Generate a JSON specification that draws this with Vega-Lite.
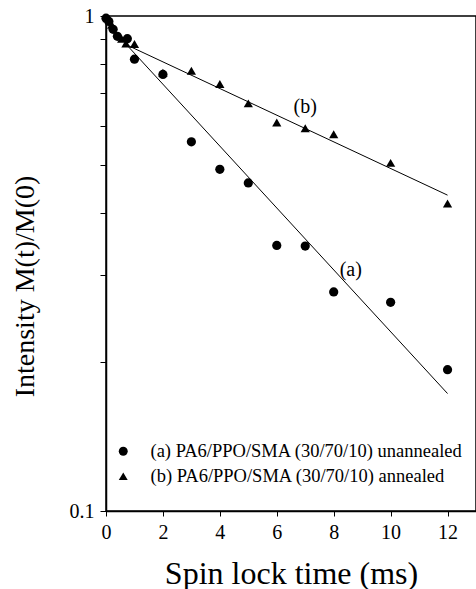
{
  "$schema": "https://vega.github.io/schema/vega-lite/v6.json",
  "width": 370,
  "height": 495,
  "autosize": {"type": "none"},
  "padding": {"left": 106, "top": 16, "right": 0, "bottom": 78},
  "background": "white",
  "config": {
    "font": "Liberation Serif",
    "view": {"stroke": "black", "strokeWidth": 1.5},
    "axis": {"domainColor": "black", "tickColor": "black", "labelColor": "black", "titleColor": "black", "grid": false, "labelFont": "Liberation Serif", "titleFont": "Liberation Serif", "titleFontWeight": "normal"}
  },
  "datasets": {
    "points": [
      {"t": 0.0, "m": 0.99, "series": "(a) PA6/PPO/SMA (30/70/10) unannealed"},
      {"t": 0.1, "m": 0.975, "series": "(a) PA6/PPO/SMA (30/70/10) unannealed"},
      {"t": 0.25, "m": 0.94, "series": "(a) PA6/PPO/SMA (30/70/10) unannealed"},
      {"t": 0.4, "m": 0.91, "series": "(a) PA6/PPO/SMA (30/70/10) unannealed"},
      {"t": 0.75, "m": 0.9, "series": "(a) PA6/PPO/SMA (30/70/10) unannealed"},
      {"t": 1, "m": 0.818, "series": "(a) PA6/PPO/SMA (30/70/10) unannealed"},
      {"t": 2, "m": 0.762, "series": "(a) PA6/PPO/SMA (30/70/10) unannealed"},
      {"t": 3, "m": 0.557, "series": "(a) PA6/PPO/SMA (30/70/10) unannealed"},
      {"t": 4, "m": 0.49, "series": "(a) PA6/PPO/SMA (30/70/10) unannealed"},
      {"t": 5, "m": 0.46, "series": "(a) PA6/PPO/SMA (30/70/10) unannealed"},
      {"t": 6, "m": 0.344, "series": "(a) PA6/PPO/SMA (30/70/10) unannealed"},
      {"t": 7, "m": 0.343, "series": "(a) PA6/PPO/SMA (30/70/10) unannealed"},
      {"t": 8, "m": 0.277, "series": "(a) PA6/PPO/SMA (30/70/10) unannealed"},
      {"t": 10, "m": 0.264, "series": "(a) PA6/PPO/SMA (30/70/10) unannealed"},
      {"t": 12, "m": 0.193, "series": "(a) PA6/PPO/SMA (30/70/10) unannealed"},
      {"t": 0.05, "m": 0.99, "series": "(b) PA6/PPO/SMA (30/70/10) annealed"},
      {"t": 0.2, "m": 0.96, "series": "(b) PA6/PPO/SMA (30/70/10) annealed"},
      {"t": 0.55, "m": 0.9, "series": "(b) PA6/PPO/SMA (30/70/10) annealed"},
      {"t": 0.7, "m": 0.88, "series": "(b) PA6/PPO/SMA (30/70/10) annealed"},
      {"t": 1, "m": 0.878, "series": "(b) PA6/PPO/SMA (30/70/10) annealed"},
      {"t": 2, "m": 0.768, "series": "(b) PA6/PPO/SMA (30/70/10) annealed"},
      {"t": 3, "m": 0.775, "series": "(b) PA6/PPO/SMA (30/70/10) annealed"},
      {"t": 4, "m": 0.729, "series": "(b) PA6/PPO/SMA (30/70/10) annealed"},
      {"t": 5, "m": 0.666, "series": "(b) PA6/PPO/SMA (30/70/10) annealed"},
      {"t": 6, "m": 0.609, "series": "(b) PA6/PPO/SMA (30/70/10) annealed"},
      {"t": 7, "m": 0.593, "series": "(b) PA6/PPO/SMA (30/70/10) annealed"},
      {"t": 8, "m": 0.577, "series": "(b) PA6/PPO/SMA (30/70/10) annealed"},
      {"t": 10, "m": 0.505, "series": "(b) PA6/PPO/SMA (30/70/10) annealed"},
      {"t": 12, "m": 0.418, "series": "(b) PA6/PPO/SMA (30/70/10) annealed"}
    ],
    "fits": [
      {"t": 0.73, "m": 0.874, "fit": "a"},
      {"t": 12, "m": 0.1727, "fit": "a"},
      {"t": 0.73, "m": 0.874, "fit": "b"},
      {"t": 12, "m": 0.4346, "fit": "b"}
    ],
    "notes": [
      {"t": 8.6, "m": 0.307, "label": "(a)"},
      {"t": 7.0, "m": 0.654, "label": "(b)"}
    ]
  },
  "layer": [
    {
      "data": {"name": "fits"},
      "mark": {"type": "line", "color": "black", "strokeWidth": 1},
      "encoding": {
        "x": {"field": "t", "type": "quantitative"},
        "y": {"field": "m", "type": "quantitative"},
        "detail": {"field": "fit"}
      }
    },
    {
      "data": {"name": "points"},
      "mark": {"type": "point", "filled": true, "opacity": 1, "color": "black", "size": 85},
      "encoding": {
        "x": {
          "field": "t", "type": "quantitative",
          "scale": {"domain": [0, 13], "nice": false, "zero": false},
          "axis": {
            "title": "Spin lock time (ms)",
            "titleFontSize": 32,
            "titlePadding": 16,
            "values": [0, 1, 2, 3, 4, 5, 6, 7, 8, 9, 10, 11, 12],
            "labelExpr": "datum.value % 2 == 0 ? datum.label : ''",
            "labelFontSize": 20,
            "labelPadding": 6,
            "tickSize": 5,
            "domainWidth": 1.5,
            "labelFlush": false
          }
        },
        "y": {
          "field": "m", "type": "quantitative",
          "scale": {"type": "log", "domain": [0.1, 1], "nice": false},
          "axis": {
            "title": "Intensity M(t)/M(0)",
            "titleFontSize": 28,
            "titlePadding": 30,
            "titleY": 270,
            "values": [0.1, 0.2, 0.3, 0.4, 0.5, 0.6, 0.7, 0.8, 0.9, 1],
            "labelExpr": "datum.value == 1 ? '1' : (datum.value == 0.1 ? '0.1' : '')",
            "labelFontSize": 20,
            "labelPadding": 6,
            "tickSize": 6,
            "domainWidth": 1.5,
            "labelFlush": false
          }
        },
        "shape": {
          "field": "series", "type": "nominal",
          "scale": {"range": ["circle", "triangle-up"]},
          "legend": {
            "title": null,
            "orient": "none",
            "legendX": 8,
            "legendY": 426,
            "labelFont": "Liberation Serif",
            "labelFontSize": 18.5,
            "labelColor": "black",
            "labelOffset": 18,
            "symbolSize": 80,
            "symbolFillColor": "black",
            "symbolStrokeColor": "black",
            "rowPadding": 6,
            "labelLimit": 400
          }
        }
      }
    },
    {
      "data": {"name": "notes"},
      "mark": {"type": "text", "font": "Liberation Serif", "fontSize": 20, "color": "black"},
      "encoding": {
        "x": {"field": "t", "type": "quantitative"},
        "y": {"field": "m", "type": "quantitative"},
        "text": {"field": "label"}
      }
    }
  ]
}
